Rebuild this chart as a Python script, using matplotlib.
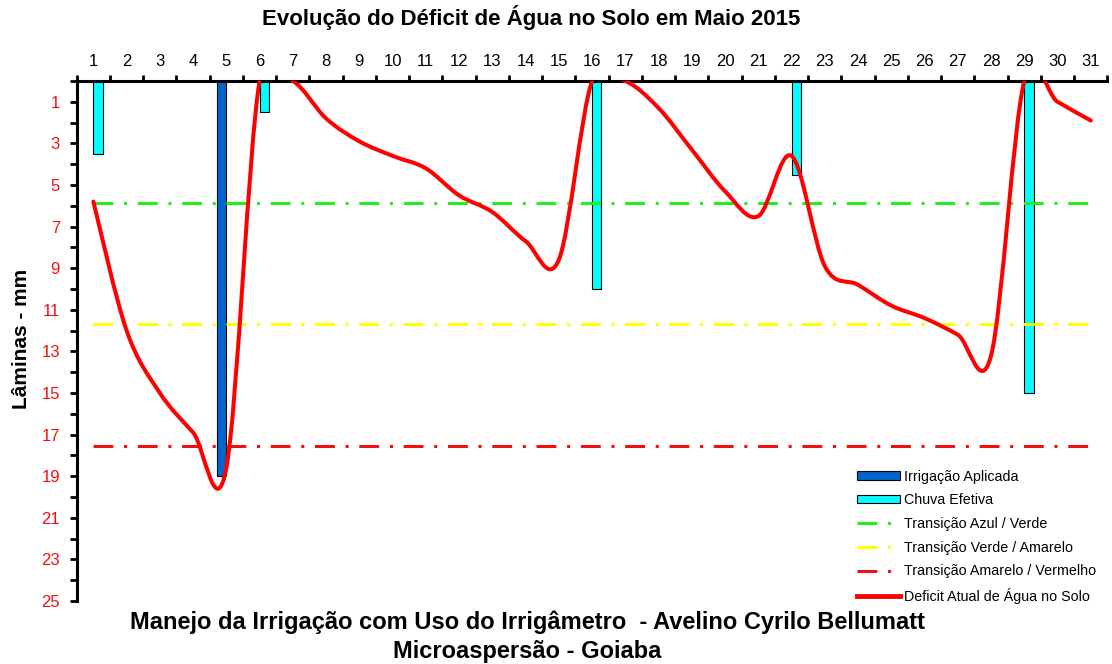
import matplotlib
matplotlib.use('Agg')
import matplotlib.pyplot as plt
from matplotlib.path import Path
from matplotlib.patches import PathPatch, Patch
from matplotlib.lines import Line2D
import numpy as np

plt.rcParams['font.family'] = ['Liberation Sans', 'DejaVu Sans']

# dias do mês de maio
dias = list(range(1, 32))

# deficit atual de água no solo (mm)
deficit = [5.8, 12.0, 15.0, 16.9, 18.6, 0.0, 0.0, 1.8, 2.9, 3.6, 4.2, 5.5, 6.3, 7.7, 8.6,
           0.0, 0.0, 1.3, 3.3, 5.3, 6.5, 3.6, 8.9, 9.8, 10.8, 11.4, 12.2, 13.2, 0.0, 1.0, 1.9]

# irrigação aplicada e chuva efetiva (mm)
dias_irrigacao = [5]
irrigacao = [19.0]
dias_chuva = [1, 6, 16, 22, 29]
chuva = [3.5, 1.5, 10.0, 4.5, 15.0]

# limites de transição (mm)
lim_azul_verde = 5.88
lim_verde_amarelo = 11.7
lim_amarelo_vermelho = 17.55

larg = 0.28

fig = plt.figure(figsize=(11.12, 6.64), dpi=100)
ax = fig.add_axes([0.069, 0.095, 0.9269, 0.783])

# barras: irrigação à esquerda do dia, chuva à direita
ax.bar(dias_irrigacao, irrigacao, width=-larg, align='edge', color='#0066CC',
       edgecolor='black', linewidth=0.8, zorder=2)
ax.bar(dias_chuva, chuva, width=larg, align='edge', color='#00FFFF',
       edgecolor='black', linewidth=0.8, zorder=2)

# linhas de transição
estilo = (0, (6.5, 3.5, 1, 3.5))
ax.plot(dias, [lim_azul_verde] * len(dias), color='#22EE22', lw=2.2, ls=estilo, zorder=3)
ax.plot(dias, [lim_verde_amarelo] * len(dias), color='#FFFF00', lw=2.2, ls=estilo, zorder=3)
ax.plot(dias, [lim_amarelo_vermelho] * len(dias), color='#EE1111', lw=2.2, ls=estilo, zorder=3)

# linha suavizada (como no Excel) do deficit
pts = np.column_stack([dias, deficit]).astype(float)
n = len(pts)
verts = [pts[0]]
codes = [Path.MOVETO]
for i in range(n - 1):
    p0 = pts[i - 1] if i > 0 else pts[i]
    p1 = pts[i]
    p2 = pts[i + 1]
    p3 = pts[i + 2] if i + 2 < n else pts[i + 1]
    verts += [p1 + (p2 - p0) / 6, p2 - (p3 - p1) / 6, p2]
    codes += [Path.CURVE4] * 3
curva = PathPatch(Path(verts, codes), fill=False, edgecolor='#FF0000', lw=2.9,
                  capstyle='round', joinstyle='round', zorder=4)
ax.add_patch(curva)

# eixos
ax.set_xlim(0.5, 31.5)
ax.set_ylim(25, 0)
ax.xaxis.tick_top()
ax.set_xticks(dias)
ax.set_xticklabels([str(d) for d in dias], fontsize=12)
ax.set_xticks(np.arange(0.5, 32, 1), minor=True)
ax.tick_params(axis='x', which='major', length=0, pad=8.4)
ax.tick_params(axis='x', which='minor', length=4.5, width=2, direction='out')

ax.set_yticks(range(1, 26, 2))
ax.set_yticklabels([str(v) for v in range(1, 26, 2)], fontsize=12, color='#EE1111')
ax.set_yticks(range(0, 26, 2), minor=True)
ax.tick_params(axis='y', which='both', length=5, width=2, direction='out', pad=7)

for lado in ['right', 'bottom']:
    ax.spines[lado].set_visible(False)
for lado in ['top', 'left']:
    ax.spines[lado].set_linewidth(2.2)

# legenda
handles = [
    Patch(facecolor='#0066CC', edgecolor='black', linewidth=0.8),
    Patch(facecolor='#00FFFF', edgecolor='black', linewidth=0.8),
    Line2D([], [], color='#22EE22', lw=2.2, ls=estilo),
    Line2D([], [], color='#FFFF00', lw=2.2, ls=estilo),
    Line2D([], [], color='#EE1111', lw=2.2, ls=estilo),
    Line2D([], [], color='#FF0000', lw=3.5),
]
rotulos = ['Irrigação Aplicada', 'Chuva Efetiva', 'Transição Azul / Verde',
           'Transição Verde / Amarelo', 'Transição Amarelo / Vermelho',
           'Deficit Atual de Água no Solo']
fig.legend(handles, rotulos, loc='upper left', bbox_to_anchor=(0.7707, 0.2929),
           frameon=False, fontsize=10.3, handlelength=3.0, handleheight=0.55,
           handletextpad=0.25, labelspacing=0.68, borderpad=0, borderaxespad=0)

# títulos
fig.text(0.4775, 0.973, 'Evolução do Déficit de Água no Solo em Maio 2015',
         ha='center', va='center', fontsize=16, fontweight='bold')
fig.text(0.019, 0.489, 'Lâminas - mm', rotation=90, ha='center', va='center',
         fontsize=15, fontweight='bold')
fig.text(0.474, 0.0633, 'Manejo da Irrigação com Uso do Irrigâmetro  - Avelino Cyrilo Bellumatt',
         ha='center', va='center', fontsize=17, fontweight='bold')
fig.text(0.474, 0.019, 'Microaspersão - Goiaba', ha='center', va='center',
         fontsize=17, fontweight='bold')

plt.savefig('out.png', dpi=100)
